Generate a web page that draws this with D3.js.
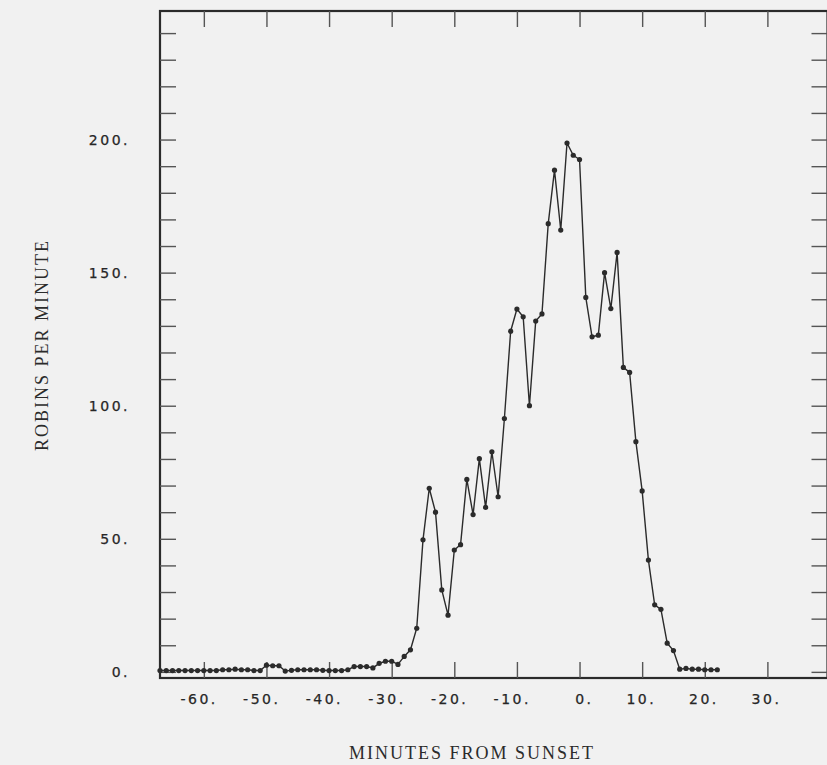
<!DOCTYPE html>
<html>
<head>
<meta charset="utf-8">
<script src="https://cdn.jsdelivr.net/npm/d3@7"></script>
<style>
  html, body { margin: 0; padding: 0; background: #f1f1f1; }
  svg { display: block; }
  .tick-label { font-family: "DejaVu Sans", sans-serif; font-size: 14px; fill: #262626; stroke: #262626; stroke-width: 0.25px; letter-spacing: 2.5px; }
  .axis-title { font-family: "Liberation Serif", "DejaVu Serif", serif; font-size: 18px; fill: #2b2b2b; letter-spacing: 2px; }
</style>
</head>
<body>
<div id="chart"></div>
<script>
// dades: minuts respecte la posta de sol i robins per minut
const minutes = [
  -67, -66, -65, -64, -63, -62, -61, -60, -59, -58, -57, -56, -55, -54, -53, -52, -51,
  -50, -49, -48, -47, -46, -45, -44, -43, -42, -41, -40, -39, -38, -37, -36, -35, -34,
  -33, -32, -31, -30, -29, -28, -27, -26, -25, -24, -23, -22, -21, -20, -19, -18, -17,
  -16, -15, -14, -13, -12, -11, -10, -9, -8, -7, -6, -5, -4, -3, -2, -1, 0,
  1, 2, 3, 4, 5, 6, 7, 8, 9, 10, 11, 12, 13, 14, 15, 16, 17, 18, 19, 20, 21, 22
];
const robins = [
  0.5, 0.5, 0.5, 0.5, 0.5, 0.5, 0.5, 0.5, 0.5, 0.5, 0.8, 0.8, 1.0, 0.8, 0.8, 0.5, 0.5,
  2.5, 2.3, 2.3, 0.3, 0.6, 0.8, 0.8, 0.8, 0.8, 0.6, 0.5, 0.5, 0.5, 0.8, 2.0, 2.0, 2.0,
  1.5, 3.2, 4.0, 4.0, 2.8, 5.8, 8.3, 16.4, 49.6, 69, 60, 30.8, 21.3, 45.8, 47.8, 72.3, 59.1,
  80.1, 61.8, 82.7, 65.8, 95.2, 128, 136.3, 133.4, 100, 131.8, 134.5, 168.4, 188.5, 166, 198.7, 194.1, 192.5,
  140.7, 125.9, 126.5, 150, 136.5, 157.6, 114.4, 112.5, 86.5, 68, 42, 25.2, 23.5, 10.8, 8, 1, 1.3, 1, 1, 0.8, 0.8, 0.8
];

// marques dels eixos
const xTicks = [-60, -50, -40, -30, -20, -10, 0, 10, 20, 30];
const yTicks = [0, 10, 20, 30, 40, 50, 60, 70, 80, 90, 100, 110, 120, 130, 140, 150, 160, 170, 180, 190, 200, 210, 220, 230, 240];
const yLabels = [0, 50, 100, 150, 200];

const data = minutes.map((m, i) => ({ t: m, v: robins[i] }));

// dimensions
const W = 827, H = 765;
const margin = {top: 11, right: -0.5, bottom: 87, left: 160};
const width = W - margin.left - margin.right;
const height = H - margin.top - margin.bottom;
const tickLen = 16;
const ink = "#2b2b2b";

const svg = d3.select("#chart")
  .append("svg")
    .attr("width", W)
    .attr("height", H);

const g = svg.append("g")
  .attr("transform", `translate(${margin.left}, ${margin.top})`);

// escales
const x = d3.scaleLinear().domain([-67, 39.6]).range([0, width]);
const y = d3.scaleLinear().domain([-2.3, 248.3]).range([height, 0]);

// marc
g.append("rect")
  .attr("x", 0).attr("y", 0)
  .attr("width", width).attr("height", height)
  .attr("fill", "none")
  .attr("stroke", ink)
  .attr("stroke-width", 2.2);

// eix X (baix i dalt), marques cap endins
g.append("g")
  .attr("transform", `translate(0, ${height})`)
  .call(d3.axisBottom(x).tickValues(xTicks).tickSize(-tickLen).tickFormat(""))
  .call(a => a.select(".domain").remove())
  .selectAll("line").attr("stroke", "#555").attr("stroke-width", 1.4);

g.append("g")
  .call(d3.axisTop(x).tickValues(xTicks).tickSize(-tickLen).tickFormat(""))
  .call(a => a.select(".domain").remove())
  .selectAll("line").attr("stroke", "#555").attr("stroke-width", 1.4);

// eix Y (esquerra i dreta)
g.append("g")
  .call(d3.axisLeft(y).tickValues(yTicks).tickSize(-tickLen).tickFormat(""))
  .call(a => a.select(".domain").remove())
  .selectAll("line").attr("stroke", "#555").attr("stroke-width", 1.4);

g.append("g")
  .attr("transform", `translate(${width}, 0)`)
  .call(d3.axisRight(y).tickValues(yTicks).tickSize(-tickLen).tickFormat(""))
  .call(a => a.select(".domain").remove())
  .selectAll("line").attr("stroke", "#555").attr("stroke-width", 1.4);

// etiquetes X: l'ultima xifra queda sobre la marca
g.selectAll(".xlab")
  .data(xTicks)
  .enter()
  .append("text")
    .attr("class", "tick-label")
    .attr("x", d => x(d) + 14)
    .attr("y", height + 26)
    .attr("text-anchor", "end")
    .text(d => d + ".");

// etiquetes Y
g.selectAll(".ylab")
  .data(yLabels)
  .enter()
  .append("text")
    .attr("class", "tick-label")
    .attr("x", 130 - margin.left)
    .attr("y", d => y(d))
    .attr("dy", "0.36em")
    .attr("text-anchor", "end")
    .text(d => d + ".");

// línia i punts
const line = d3.line().x(d => x(d.t)).y(d => y(d.v));

g.append("path")
  .datum(data)
  .attr("fill", "none")
  .attr("stroke", ink)
  .attr("stroke-width", 1.4)
  .attr("d", line);

g.selectAll(".pt")
  .data(data)
  .enter()
  .append("circle")
    .attr("class", "pt")
    .attr("cx", d => x(d.t))
    .attr("cy", d => y(d.v))
    .attr("r", 2.6)
    .attr("fill", ink);

// títols dels eixos
svg.append("text")
  .attr("class", "axis-title")
  .attr("x", 472)
  .attr("y", 759)
  .attr("text-anchor", "middle")
  .text("MINUTES FROM SUNSET");

svg.append("text")
  .attr("class", "axis-title")
  .attr("transform", "translate(48, 345) rotate(-90)")
  .attr("text-anchor", "middle")
  .text("ROBINS PER MINUTE");
</script>
</body>
</html>
